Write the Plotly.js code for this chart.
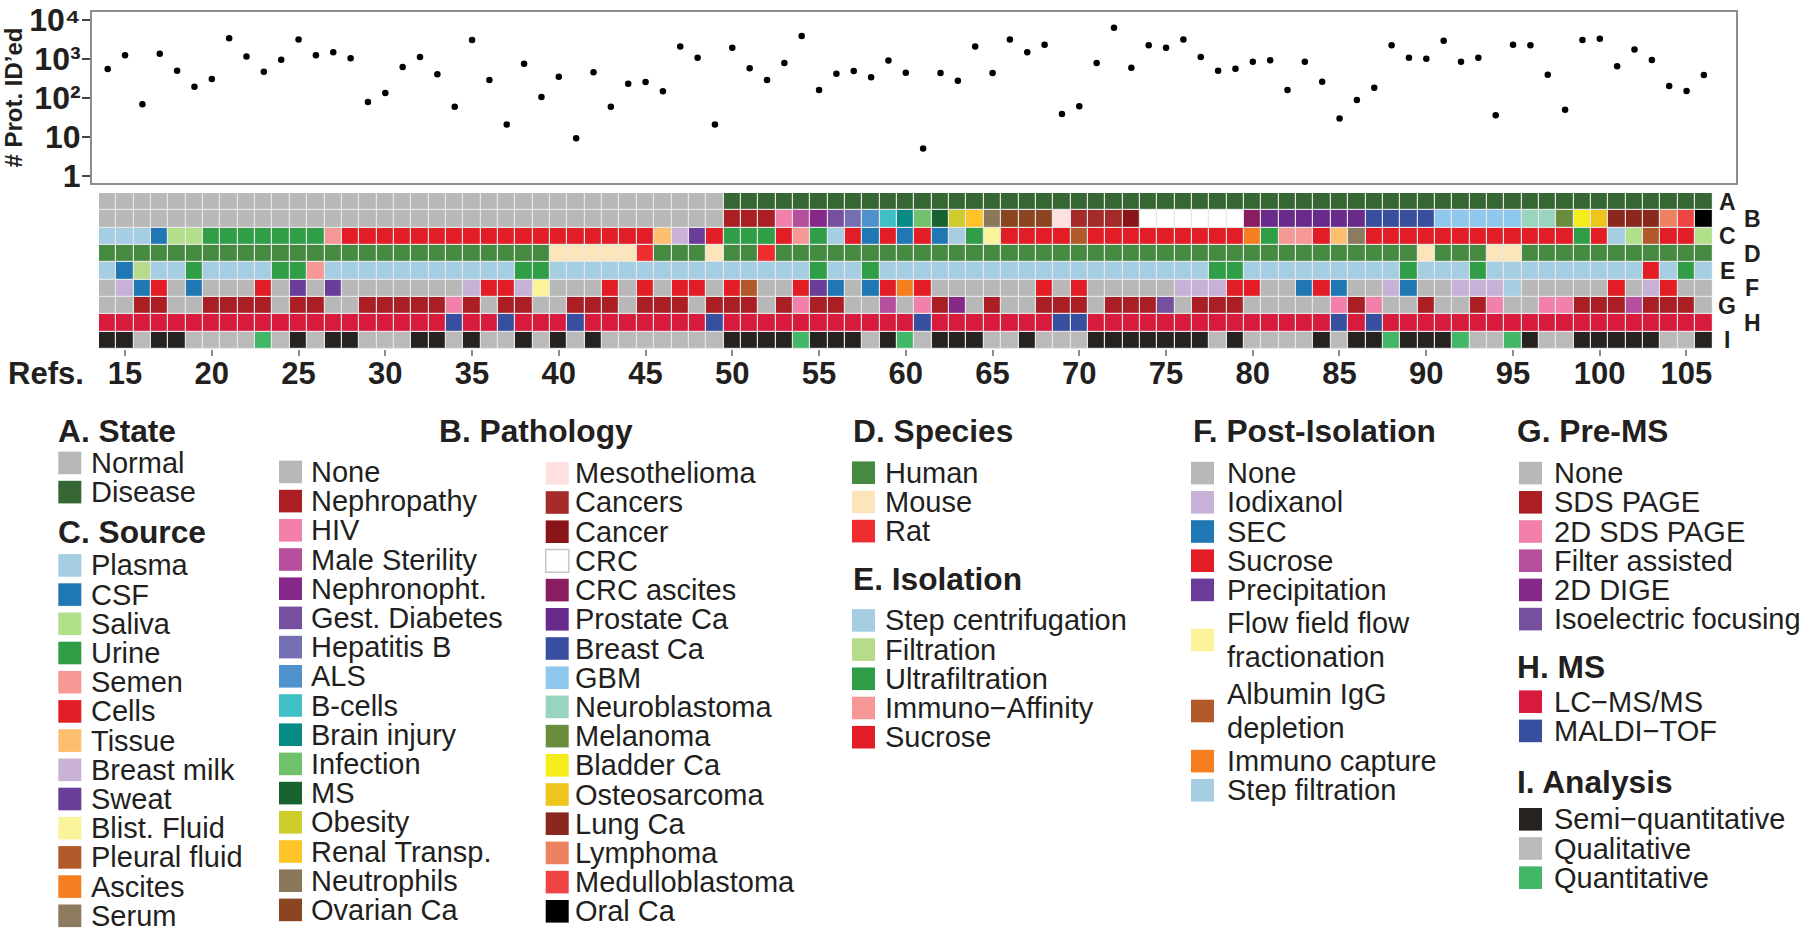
<!DOCTYPE html>
<html><head><meta charset="utf-8">
<script src="https://cdn.plot.ly/plotly-3.0.1.min.js"></script>
<style>body{margin:0;background:#fff}#chart{width:1800px;height:933px}</style>
</head><body><div id="chart"></div>
<script>
// ---------------- DATA ----------------
const refs = [14,15,16,17,18,19,20,21,22,23,24,25,26,27,28,29,30,31,32,33,34,35,36,37,38,39,40,41,42,43,44,45,46,47,48,49,50,51,52,53,54,55,56,57,58,59,60,61,62,63,64,65,66,67,68,69,70,71,72,73,74,75,76,77,78,79,80,81,82,83,84,85,86,87,88,89,90,91,92,93,94,95,96,97,98,99,100,101,102,103,104,105,106];
const proteinsIdentified = [550,1240,69,1370,500,195,307,3390,1150,470, 960,3180,1240,1480,1040,79,134,620,1130,405, 60,3080,290,21,760,106,353,9.3,455,60, 233,257,148,2080,1080,21,1950,575,290,790, 3890,161,420,495,340,910,445,5.1,437,278, 2080,437,3180,1480,2330,39,61,790,6320,600, 2240,1950,3180,1130,500,565,850,925,161,850, 262,30,89,183,2240,1080,1020,2950,850,1080, 36,2330,2240,397,50,3080,3310,650,1740,940, 203,151,388];
const tickRefs = [15,20,25,30,35,40,45,50,55,60,65,70,75,80,85,90,95,100,105];
const yTickVals = [1,10,100,1000,10000];
const yTickText = ['1','10','10\u00b2','10\u00b3','10\u2074'];
const rowLetters = ['A','B','C','D','E','F','G','H','I'];

const stateLabels = ['Normal','Disease'];
const stateColors = ['#b8b8b8','#356633'];
const stateCodes = [0,0,0,0,0,0,0,0,0,0, 0,0,0,0,0,0,0,0,0,0, 0,0,0,0,0,0,0,0,0,0, 0,0,0,0,0,0,1,1,1,1, 1,1,1,1,1,1,1,1,1,1, 1,1,1,1,1,1,1,1,1,1, 1,1,1,1,1,1,1,1,1,1, 1,1,1,1,1,1,1,1,1,1, 1,1,1,1,1,1,1,1,1,1, 1,1,1];

const pathologyLabels = ['None','Nephropathy','HIV','Male Sterility','Nephronopht.','Gest. Diabetes','Hepatitis B','ALS','B-cells','Brain injury','Infection','MS','Obesity','Renal Transp.','Neutrophils','Ovarian Ca','Mesothelioma','Cancers','Cancer','CRC','CRC ascites','Prostate Ca','Breast Ca','GBM','Neuroblastoma','Melanoma','Bladder Ca','Osteosarcoma','Lung Ca','Lymphoma','Medulloblastoma','Oral Ca'];
const pathologyColors = ['#b8b8b8','#ab1f24','#f280aa','#b54e9d','#862887','#76509e','#7570b3','#4e91cd','#3fc0c6','#078b87','#70c16b','#17622f','#cfcd2b','#fdc327','#8b775a','#8b4520','#fde0df','#a52a2a','#8a1518','#ffffff','#8a1c60','#692a8b','#384fa0','#8fc8ed','#98d4be','#6b8c3c','#f4ed1b','#edc51c','#8a281d','#ee8160','#ef4444','#000000'];
const pathologyCodes = [0,0,0,0,0,0,0,0,0,0, 0,0,0,0,0,0,0,0,0,0, 0,0,0,0,0,0,0,0,0,0, 0,0,0,0,0,0,1,1,1,2, 3,4,5,6,7,8,9,10,11,12, 13,14,15,15,15,16,17,17,17,18, 19,19,19,19,19,19,20,21,21,21, 21,21,21,22,22,22,22,23,23,23, 23,23,24,24,25,26,27,28,28,28, 29,30,31];

const sourceLabels = ['Plasma','CSF','Saliva','Urine','Semen','Cells','Tissue','Breast milk','Sweat','Blist. Fluid','Pleural fluid','Ascites','Serum'];
const sourceColors = ['#a6cee3','#1f78b4','#b2df8a','#2f9e46','#f59896','#e31d25','#fdbf6f','#cab2d6','#6a3d9a','#f9f39b','#b15928','#f57f20','#8c7b5f'];
const sourceCodes = [0,0,0,1,2,2,3,3,3,3, 3,3,3,4,5,5,5,5,5,5, 5,5,5,5,5,5,5,5,5,5, 5,5,6,7,8,5,3,3,3,5, 4,3,0,5,1,5,1,5,1,0, 3,9,5,5,5,5,10,5,5,5, 5,5,5,5,5,5,11,3,4,4, 5,6,12,5,5,5,5,5,5,5, 5,5,5,5,5,3,5,0,2,10, 5,5,2];

const speciesLabels = ['Human','Mouse','Rat'];
const speciesColors = ['#468a41','#fde5bb','#ef2c2e'];
const speciesCodes = [0,0,0,0,0,0,0,0,0,0, 0,0,0,0,0,0,0,0,0,0, 0,0,0,0,0,0,1,1,1,1, 1,2,0,0,0,1,0,0,2,0, 0,0,0,0,0,0,0,0,0,0, 0,0,0,0,0,0,0,0,0,0, 0,0,0,0,0,0,0,0,0,0, 0,0,0,0,0,0,1,0,0,0, 1,1,0,0,0,0,0,0,0,0, 0,0,0];

const isolationLabels = ['Step centrifugation','Filtration','Ultrafiltration','Immuno\u2212Affinity','Sucrose'];
const isolationColors = ['#a6cee3','#b5db8b','#2f9e46','#f59896','#e31d25','#1f78b4'];
const isolationCodes = [0,5,1,0,0,2,0,0,0,0, 2,2,3,0,0,0,0,0,0,0, 0,0,0,0,2,2,0,0,0,0, 0,0,0,0,0,0,0,0,0,0, 0,2,0,0,2,0,0,0,0,0, 0,0,0,0,0,0,0,0,0,0, 0,0,0,0,2,2,0,0,0,0, 0,0,0,0,0,2,0,0,0,2, 0,0,0,0,0,0,0,0,0,4, 0,2,0];

const postIsolationLabels = ['None','Iodixanol','SEC','Sucrose','Precipitation','Flow field flow\nfractionation','Albumin IgG\ndepletion','Immuno capture','Step filtration'];
const postIsolationColors = ['#b8b8b8','#c8b1d6','#1f78b4','#e31d25','#6a3d9a','#faf39a','#b15928','#f57f20','#a6cee3'];
const postIsolationCodes = [0,1,2,3,0,2,0,0,0,3, 0,4,0,4,0,0,0,0,0,0, 0,1,3,3,1,5,0,0,0,3, 0,3,0,3,3,0,3,6,0,0, 3,4,2,0,2,3,7,3,0,0, 0,0,0,0,3,0,3,0,0,0, 0,0,1,1,1,3,3,0,0,2, 3,2,0,0,1,2,0,0,1,1, 1,8,0,0,0,0,0,3,0,1, 3,0,0];

const preMSLabels = ['None','SDS PAGE','2D SDS PAGE','Filter assisted','2D DIGE','Isoelectric focusing'];
const preMSColors = ['#b8b8b8','#ab1f24','#f280aa','#b54e9d','#862887','#76509e'];
const preMSCodes = [0,0,1,1,0,0,1,1,1,1, 0,1,1,0,0,1,1,1,1,1, 2,1,0,1,1,0,0,1,1,1, 0,1,1,1,0,1,1,1,0,1, 2,1,1,0,0,3,0,2,1,4, 0,1,0,0,1,1,1,0,1,1, 1,5,0,1,1,1,0,0,0,0, 0,2,1,2,0,0,1,0,0,1, 2,0,0,2,2,1,1,1,3,1, 1,1,0];

const msLabels = ['LC\u2212MS/MS','MALDI\u2212TOF'];
const msColors = ['#d81b3d','#384fa0'];
const msCodes = [0,0,0,0,0,0,0,0,0,0, 0,0,0,0,0,0,0,0,0,0, 1,0,0,1,0,0,0,1,0,0, 0,0,0,0,0,1,0,0,0,0, 0,0,0,0,0,0,0,1,0,0, 0,0,0,0,0,1,1,0,0,0, 0,0,0,0,0,0,0,0,0,0, 0,1,0,1,0,0,0,0,0,0, 0,0,0,0,0,0,0,0,0,0, 0,0,0];

const analysisLabels = ['Semi\u2212quantitative','Qualitative','Quantitative'];
const analysisColors = ['#262220','#bababa','#42b866'];
const analysisCodes = [0,0,1,0,0,1,1,1,1,2, 1,0,1,0,0,1,1,1,0,0, 1,0,1,1,0,1,0,1,0,1, 1,1,1,1,1,1,0,0,0,0, 2,0,0,0,1,0,2,1,0,0, 0,1,1,0,1,1,1,0,0,0, 0,0,0,0,1,0,1,1,1,1, 0,1,0,0,2,0,0,0,2,1, 1,2,0,1,1,0,0,0,0,0, 1,1,0];

// ---------------- BUILD ----------------
const W = 1800, H = 933;
const px = x => x / W;
const py = y => 1 - y / H;
const TXT = '#231f20';
const FONT = 'Liberation Sans, Arial, Helvetica, sans-serif';

const rowCodes = [stateCodes, pathologyCodes, sourceCodes, speciesCodes, isolationCodes, postIsolationCodes, preMSCodes, msCodes, analysisCodes];
const rowColors = [stateColors, pathologyColors, sourceColors, speciesColors, isolationColors, postIsolationColors, preMSColors, msColors, analysisColors];

const palette = [];
const offsets = [];
rowColors.forEach(cs => { offsets.push(palette.length); cs.forEach(c => palette.push(c)); });
const N = palette.length;
const colorscale = [];
palette.forEach((c, i) => { colorscale.push([i / N, c]); colorscale.push([(i + 1) / N, c]); });
const z = rowCodes.map((codes, r) => codes.map(v => offsets[r] + v));

const scatter = {
  type: 'scatter', mode: 'markers', x: refs, y: proteinsIdentified,
  xaxis: 'x', yaxis: 'y', marker: { color: '#000', size: 6.5 }, hoverinfo: 'x+y'
};
const heat = {
  type: 'heatmap', x: refs, y: rowLetters.map((_, i) => i), z: z,
  xaxis: 'x2', yaxis: 'y2', colorscale: colorscale, zmin: -0.5, zmax: N - 0.5,
  showscale: false, xgap: 1.2, ygap: 1.2, hoverinfo: 'skip'
};

const annotations = [];
const shapes = [];

// light separator background behind the grid cells
shapes.push({ type: 'rect', xref: 'x2', yref: 'y2', x0: 13.5, x1: 106.5, y0: -0.5, y1: 8.5,
  fillcolor: '#e6e6e6', line: { width: 0 }, layer: 'below' });

// row letters
rowLetters.forEach((L, i) => {
  annotations.push({ text: L, xref: 'paper', yref: 'y2', x: px(i % 2 === 0 ? 1727 : 1752), y: i,
    xanchor: 'center', yanchor: 'middle', showarrow: false, font: { size: 23, weight: 'bold', color: TXT } });
});
annotations.push({ text: 'Refs.', xref: 'paper', yref: 'paper', x: px(6), y: py(373.5), xanchor: 'left', yanchor: 'middle',
  showarrow: false, font: { size: 31, weight: 'bold', color: TXT } });

// legend
const STEP = 29.2, TWO = 71;
function legendTitle(t, x, y) {
  annotations.push({ text: t, xref: 'paper', yref: 'paper', x: px(x - 2), y: py(y), xanchor: 'left', yanchor: 'middle',
    showarrow: false, font: { size: 31.7, weight: 'bold', color: TXT } });
}
function legendItems(labels, colors, sx, lx, y0) {
  let c = y0, prevH = null;
  labels.forEach((lab, i) => {
    const lines = lab.split('\n');
    const h = lines.length > 1 ? TWO : STEP;
    if (prevH !== null) c += prevH / 2 + h / 2;
    prevH = h;
    const white = colors[i] === '#ffffff';
    shapes.push({ type: 'rect', xref: 'paper', yref: 'paper', x0: px(sx), x1: px(sx + 23), y0: py(c - 11.3), y1: py(c + 11.3),
      fillcolor: colors[i], line: { color: white ? '#c4c4c4' : colors[i], width: white ? 1.5 : 0 } });
    lines.forEach((ln, j) => {
      const ly = lines.length > 1 ? c + (j === 0 ? -17 : 17) : c;
      annotations.push({ text: ln, xref: 'paper', yref: 'paper', x: px(lx - 2), y: py(ly), xanchor: 'left', yanchor: 'middle',
        showarrow: false, font: { size: 29, color: TXT } });
    });
  });
}
legendTitle('A. State', 58.3, 431.4);   legendItems(stateLabels, stateColors, 58.3, 91, 462.9);
legendTitle('C. Source', 58.3, 531.7);  legendItems(sourceLabels, sourceColors, 58.3, 91, 565.4);
legendTitle('B. Pathology', 439, 431.4);
legendItems(pathologyLabels.slice(0, 16), pathologyColors.slice(0, 16), 279, 311, 471.9);
legendItems(pathologyLabels.slice(16), pathologyColors.slice(16), 545.7, 575, 473.3);
legendTitle('D. Species', 852.7, 431.4);   legendItems(speciesLabels, speciesColors, 852, 885, 472.7);
legendTitle('E. Isolation', 852.7, 579.3); legendItems(isolationLabels, isolationColors, 852, 885, 620.4);
legendTitle('F. Post-Isolation', 1193, 431.4); legendItems(postIsolationLabels, postIsolationColors, 1191, 1227, 473.1);
legendTitle('G. Pre-MS', 1517, 431.4);  legendItems(preMSLabels, preMSColors, 1519, 1554, 473.1);
legendTitle('H. MS', 1517, 666.8);      legendItems(msLabels, msColors, 1519, 1554, 701.7);
legendTitle('I. Analysis', 1517, 782.4); legendItems(analysisLabels, analysisColors, 1519, 1554, 819.3);

const layout = {
  width: W, height: H, margin: { l: 0, r: 0, t: 0, b: 0 },
  paper_bgcolor: '#ffffff', plot_bgcolor: '#ffffff', showlegend: false, hovermode: 'closest',
  font: { family: FONT, color: TXT },
  xaxis: { domain: [px(92), px(1736)], range: [13.095, 107.85], showticklabels: false, ticks: '', showgrid: false,
    zeroline: false, showline: true, mirror: true, linecolor: '#8c8c8c', linewidth: 2, fixedrange: true },
  yaxis: { domain: [py(183), py(12)], type: 'log', range: [-0.18, 4.205], tickvals: yTickVals, ticktext: yTickText,
    ticks: 'outside', ticklen: 8, tickwidth: 1.5, tickcolor: '#444', showgrid: false, zeroline: false,
    showline: true, mirror: true, linecolor: '#8c8c8c', linewidth: 2, ticklabeloverflow: 'allow', ticklabelstandoff: -5,
    tickfont: { size: 32, weight: 'bold', color: TXT },
    title: { text: '# Prot. ID\u2019ed', font: { size: 24, weight: 'bold', color: TXT }, standoff: 4 } },
  xaxis2: { domain: [px(99), px(1712.5)], range: [13.5, 106.5], anchor: 'y2', tickvals: tickRefs,
    ticks: 'outside', ticklen: 6, tickwidth: 1.5, tickcolor: '#8c8c8c', ticklabelstandoff: -9, ticklabeloverflow: 'allow',
    tickfont: { size: 31, weight: 'bold', color: TXT },
    showgrid: false, zeroline: false, showline: false },
  yaxis2: { domain: [py(349), py(193)], range: [8.5, -0.5], anchor: 'x2', showticklabels: false, ticks: '',
    showgrid: false, zeroline: false },
  shapes: shapes, annotations: annotations
};

Plotly.newPlot('chart', [heat, scatter], layout, { displayModeBar: false, responsive: false });
</script>
</body></html>
